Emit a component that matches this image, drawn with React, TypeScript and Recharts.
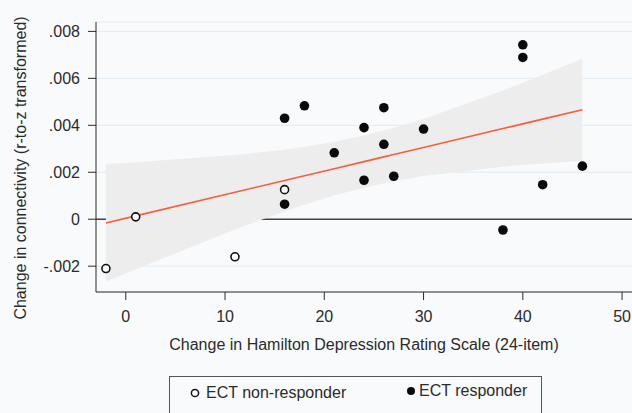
import React from 'react'
import {
  ComposedChart,
  Area,
  Line,
  Scatter,
  XAxis,
  YAxis,
  CartesianGrid,
  ReferenceLine,
} from 'recharts'

// change in HDRS-24 (x) vs change in connectivity (y)
const nonResponderX = [-2, 1, 11, 16]
const nonResponderY = [-0.0021, 0.0001, -0.0016, 0.00126]

const responderX = [16, 16, 18, 21, 24, 24, 26, 26, 27, 30, 38, 40, 40, 42, 46]
const responderY = [
  0.00064, 0.0043, 0.00483, 0.00283, 0.0039, 0.00166, 0.00475, 0.00319, 0.00183, 0.00384,
  -0.00046, 0.00743, 0.00689, 0.00147, 0.00226,
]

const xTicks = [0, 10, 20, 30, 40, 50]
const yTicks = [-0.002, 0, 0.002, 0.004, 0.006, 0.008]

const FONT = '"Liberation Sans", Arial, Helvetica, sans-serif'
const INK = '#2b2b2b'

// OLS fit + 95% CI of the mean (Stata lfitci style), t(0.975, df = 17)
const T_CRIT = 2.11

const allX = [...nonResponderX, ...responderX]
const allY = [...nonResponderY, ...responderY]
const n = allX.length
const mx = allX.reduce((s, v) => s + v, 0) / n
const my = allY.reduce((s, v) => s + v, 0) / n
let sxx = 0
let sxy = 0
allX.forEach((x, i) => {
  sxx += (x - mx) * (x - mx)
  sxy += (x - mx) * (allY[i] - my)
})
const slope = sxy / sxx
const intercept = my - slope * mx
const sse = allX.reduce((s, x, i) => s + (allY[i] - intercept - slope * x) ** 2, 0)
const se = Math.sqrt(sse / (n - 2))

const fitX = Array.from(new Set(allX)).sort((a, b) => a - b)
const fitRows = fitX.map((x) => {
  const yhat = intercept + slope * x
  const h = T_CRIT * se * Math.sqrt(1 / n + ((x - mx) * (x - mx)) / sxx)
  return { x, fit: yhat, band: [yhat - h, yhat + h] }
})

const nonResponders = nonResponderX.map((x, i) => ({ x, y: nonResponderY[i] }))
const responders = responderX.map((x, i) => ({ x, y: responderY[i] }))

function fmtY(v: number): string {
  if (v === 0) return '0'
  return v.toFixed(3).replace('0.', '.')
}

const OpenDot = (p: any) => (
  <circle cx={p.cx} cy={p.cy} r={4} fill="#ffffff" stroke="#111" strokeWidth={1.6} />
)
const SolidDot = (p: any) => <circle cx={p.cx} cy={p.cy} r={4.8} fill="#0a0a0a" />

const xTitle = (props: any) => {
  const vb = props.viewBox
  return (
    <text x={vb.x + vb.width / 2} y={vb.y + 58} textAnchor="middle" fill={INK} fontSize={16} fontFamily={FONT}>
      Change in Hamilton Depression Rating Scale (24-item)
    </text>
  )
}

const yTitle = (props: any) => {
  const vb = props.viewBox
  const cx = vb.x + 20
  const cy = vb.y + vb.height / 2 + 11
  return (
    <text
      x={cx}
      y={cy}
      dy="0.35em"
      transform={`rotate(-90 ${cx} ${cy})`}
      textAnchor="middle"
      fill={INK}
      fontSize={16}
      fontFamily={FONT}
    >
      Change in connectivity (r-to-z transformed)
    </text>
  )
}

export default function App() {
  return (
    <div
      style={{
        position: 'fixed',
        left: 0,
        top: 0,
        width: 632,
        height: 413,
        overflow: 'hidden',
        background: '#f9fafb',
        fontFamily: FONT,
      }}
    >
      <ComposedChart width={632} height={413} data={fitRows} margin={{ top: 22, right: 0, bottom: 0, left: 0 }}>
        <CartesianGrid vertical={false} stroke="#e1ebf2" strokeWidth={1} />
        <XAxis
          type="number"
          dataKey="x"
          domain={[-3, 51]}
          ticks={xTicks}
          allowDataOverflow
          height={121}
          tickSize={8}
          tickMargin={11}
          stroke={INK}
          tick={{ fill: INK, fontSize: 16, fontFamily: FONT }}
          label={xTitle}
        />
        <YAxis
          type="number"
          domain={[-0.0031, 0.0084]}
          ticks={yTicks}
          allowDataOverflow
          tickFormatter={fmtY}
          width={96}
          tickSize={8}
          tickMargin={8}
          stroke={INK}
          tick={{ fill: INK, fontSize: 16, fontFamily: FONT }}
          label={yTitle}
        />
        {/* zero line sits underneath the CI band */}
        <ReferenceLine y={0} stroke="#444" strokeWidth={1.5} zIndex={50} />
        <Area
          type="linear"
          dataKey="band"
          stroke="none"
          fill="#ededed"
          fillOpacity={1}
          isAnimationActive={false}
        />
        <Line
          type="linear"
          dataKey="fit"
          stroke="#f2603c"
          strokeWidth={1.6}
          dot={false}
          activeDot={false}
          isAnimationActive={false}
        />
        <Scatter data={nonResponders} dataKey="y" shape={OpenDot} isAnimationActive={false} />
        <Scatter data={responders} dataKey="y" shape={SolidDot} isAnimationActive={false} />
      </ComposedChart>

      <div
        style={{
          position: 'absolute',
          left: 169,
          top: 376,
          width: 373,
          height: 60,
          boxSizing: 'border-box',
          border: '1.5px solid #555',
          fontSize: 16,
          color: INK,
        }}
      >
        <div style={{ position: 'absolute', left: 19, top: 7, display: 'flex', alignItems: 'center' }}>
          <svg width={12} height={12} style={{ marginRight: 5 }}>
            <circle cx={6} cy={6} r={3.6} fill="#fff" stroke="#111" strokeWidth={1.5} />
          </svg>
          <span>ECT non-responder</span>
        </div>
        <div style={{ position: 'absolute', left: 235, top: 5, display: 'flex', alignItems: 'center' }}>
          <svg width={12} height={12} style={{ marginRight: 2 }}>
            <circle cx={6} cy={6} r={4} fill="#0a0a0a" />
          </svg>
          <span>ECT responder</span>
        </div>
      </div>
    </div>
  )
}
